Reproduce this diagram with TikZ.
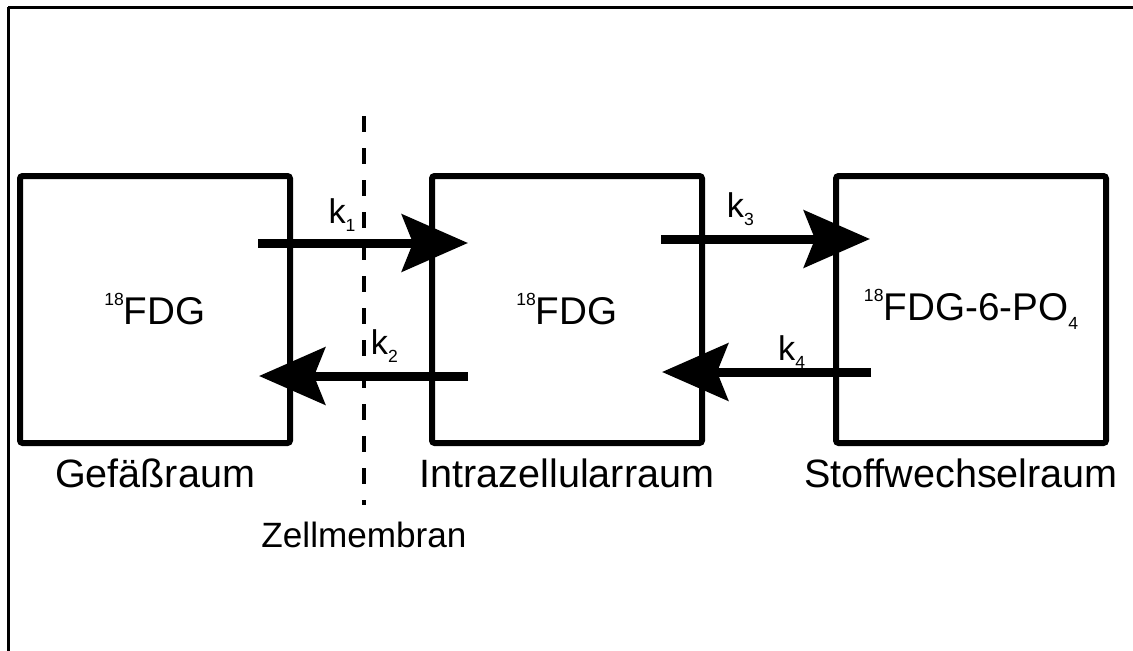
\documentclass[tikz,border=0pt]{standalone}
\usepackage{fontspec}
\setmainfont{Liberation Sans}
\usetikzlibrary{positioning,arrows.meta}
\newcommand{\iso}[1]{\raisebox{0.38cm}{\fontsize{10}{10}\selectfont #1}}
\newcommand{\idx}[1]{\raisebox{-0.17cm}{\fontsize{10}{10}\selectfont #1}}
\tikzset{
  room/.style={draw, line width=0.12cm, rounded corners=1.5pt, outer sep=0pt,
               minimum width=5.4cm, minimum height=5.34cm, inner sep=0pt,
               font=\fontsize{22}{24}\selectfont},
  roomname/.style={anchor=base, inner sep=0pt, font=\fontsize{22.5}{26}\selectfont},
  flow/.style={-{Stealth[length=1.32cm, width=1.14cm, inset=0.22cm]}, line width=0.18cm},
  rate/.style={anchor=base, inner sep=0pt, font=\fontsize{19.5}{22}\selectfont},
  membrane/.style={line width=0.08cm, dash pattern=on 0.32cm off 0.32cm},
  membranename/.style={anchor=base, inner sep=0pt, font=\fontsize{20}{23}\selectfont},
  frame/.style={line width=0.06cm},
}
\begin{document}
\begin{tikzpicture}
\path[use as bounding box, clip] (0,0) rectangle (22.66,-13.02);
\draw[frame] (0.16,-0.15) -- (30,-0.15);
\draw[frame] (0.16,-0.15) -- (0.16,-20);

% compartments
\node[room] (gef) at (3.10,-6.19) {\iso{18}FDG};
\node[room, right=2.84cm of gef] (intra) {\iso{18}FDG};
\node[room, right=2.68cm of intra] (stoff) {\iso{18}FDG-6-PO\idx{4}};

\node[roomname] (gefl) at ([yshift=-0.88cm]gef.south) {Gefäßraum};
\node[roomname] (intral) at ([yshift=-0.88cm]intra.south) {Intrazellularraum};
\node[roomname] (stoffl) at ([shift={(-0.2,-0.88)}]stoff.south) {Stoffwechselraum};

% cell membrane
\coordinate (mtop) at (7.28,-2.32);
\coordinate (mbot) at (7.28,-10.10);
\draw[membrane] (mtop) -- (mbot);
\node[membranename] (zell) at ([yshift=-0.84cm]mbot) {Zellmembran};

% rate constants
\coordinate (k1a) at ([shift={(-0.64,1.33)}]gef.east);
\coordinate (k1b) at ([shift={(0.72,1.33)}]intra.west);
\coordinate (k2a) at ([shift={(0.72,-1.33)}]intra.west);
\coordinate (k2b) at ([shift={(-0.62,-1.33)}]gef.east);
\coordinate (k3a) at ([shift={(-0.82,1.41)}]intra.east);
\coordinate (k3b) at ([shift={(0.68,1.41)}]stoff.west);
\coordinate (k4a) at ([shift={(0.70,-1.25)}]stoff.west);
\coordinate (k4b) at ([shift={(-0.80,-1.25)}]intra.east);

\draw[flow] (k1a) -- node[rate, pos=0.4, yshift=0.4cm] {k\idx{1}} (k1b);
\draw[flow] (k2a) -- node[rate, pos=0.4, yshift=0.44cm] {k\idx{2}} (k2b);
\draw[flow] (k3a) -- node[rate, pos=0.38, yshift=0.44cm] {k\idx{3}} (k3b);
\draw[flow] (k4a) -- node[rate, pos=0.38, yshift=0.24cm] {k\idx{4}} (k4b);
\end{tikzpicture}
\end{document}
